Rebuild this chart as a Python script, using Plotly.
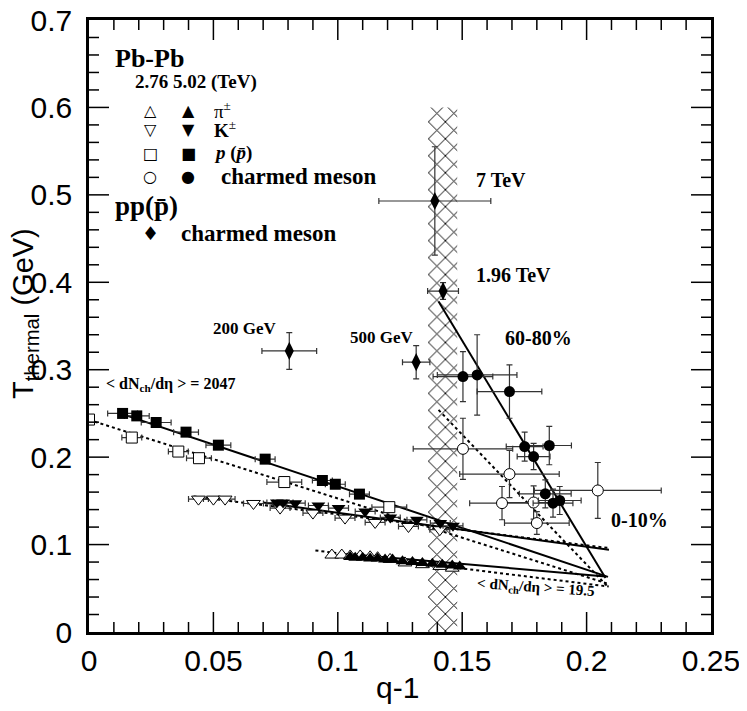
import plotly.graph_objects as go

# ---- data ----
# Pb-Pb pions
pi276_q = [0.0976, 0.1016, 0.105, 0.109, 0.113, 0.116, 0.121, 0.127, 0.134, 0.141, 0.146]
pi276_T = [0.088, 0.088, 0.087, 0.087, 0.086, 0.085, 0.083, 0.079, 0.077, 0.075, 0.073]
pi502_q = [0.105, 0.107, 0.110, 0.113, 0.116, 0.119, 0.122, 0.126, 0.130, 0.134, 0.138, 0.142, 0.146, 0.149]
pi502_T = [0.0857, 0.085, 0.085, 0.084, 0.084, 0.083, 0.083, 0.081, 0.080, 0.079, 0.078, 0.077, 0.076, 0.075]

# Pb-Pb kaons
K276_q = [0.044, 0.050, 0.0547, 0.0661, 0.0768, 0.090, 0.1029, 0.115, 0.1284, 0.141]
K276_T = [0.152, 0.152, 0.152, 0.147, 0.1417, 0.136, 0.1303, 0.1253, 0.1207, 0.117]
K502_q = [0.0755, 0.078, 0.0829, 0.0922, 0.1003, 0.111, 0.1211, 0.1318, 0.1412, 0.1463]
K502_T = [0.148, 0.148, 0.1474, 0.1447, 0.1417, 0.1379, 0.131, 0.1283, 0.1246, 0.1215]
K_qerr = [0.004, 0.004, 0.004, 0.004, 0.004, 0.004, 0.004, 0.004, 0.004, 0.004]

# Pb-Pb protons
p276_q = [0.0, 0.0172, 0.0359, 0.0442, 0.0785, 0.1207]
p276_T = [0.243, 0.2224, 0.2064, 0.1988, 0.1715, 0.1428]
p276_qerr = [0.0, 0.004, 0.004, 0.005, 0.007, 0.007]
p502_q = [0.0135, 0.0192, 0.027, 0.039, 0.052, 0.0708, 0.0938, 0.099, 0.1087]
p502_T = [0.250, 0.2472, 0.2396, 0.2286, 0.2137, 0.1977, 0.1733, 0.169, 0.1577]
p502_qerr = [0.006, 0.005, 0.006, 0.005, 0.005, 0.004, 0.004, 0.004, 0.004]

# Pb-Pb charmed mesons
c502_q = [0.1503, 0.156, 0.169, 0.1751, 0.185, 0.1787, 0.1834, 0.1865, 0.1892]
c502_T = [0.2921, 0.294, 0.275, 0.2121, 0.2133, 0.2007, 0.158, 0.1474, 0.1504]
c502_qerr = [0.012, 0.016, 0.013, 0.0074, 0.0089, 0.0066, 0.0104, 0.008, 0.0086]
c502_Terr = [0.0286, 0.046, 0.0305, 0.0166, 0.022, 0.015, 0.016, 0.016, 0.016]
c276_q = [0.1503, 0.169, 0.166, 0.1787, 0.180, 0.2045]
c276_T = [0.2095, 0.1806, 0.1474, 0.1481, 0.1246, 0.1619]
c276_qerr = [0.02, 0.02, 0.013, 0.012, 0.013, 0.0255]
c276_Terr = [0.035, 0.027, 0.019, 0.019, 0.013, 0.032]

# pp(pbar) charmed mesons
pp_labels = ["200 GeV", "500 GeV", "1.96 TeV", "7 TeV"]
pp_q = [0.0805, 0.1315, 0.1423, 0.139]
pp_T = [0.3215, 0.3086, 0.390, 0.493]
pp_qerr = [0.011, 0.0055, 0.0062, 0.0225]
pp_Terr = [0.021, 0.019, 0.0095, 0.062]

# linear fits (end points)
fit_p502_q, fit_p502_T = [0.0131, 0.2086], [0.2495, 0.063]
fit_p276_q, fit_p276_T = [0.0, 0.2088], [0.2426, 0.055]
fit_K502_q, fit_K502_T = [0.070, 0.209], [0.148, 0.094]
fit_K276_q, fit_K276_T = [0.042, 0.209], [0.155, 0.096]
fit_pi502_q, fit_pi502_T = [0.105, 0.2076], [0.089, 0.0636]
fit_pi276_q, fit_pi276_T = [0.091, 0.2089], [0.0933, 0.052]
fit_c502_q, fit_c502_T = [0.1405, 0.2076], [0.378, 0.0617]
fit_c276_q, fit_c276_T = [0.1405, 0.2088], [0.254, 0.051]

# hatched band
band_q = [0.1364, 0.148]
band_T = [0.0, 0.600]

# axis ranges and tick steps
x_range, x_major_step, x_minor_step = [0, 0.25], 0.05, 0.01
y_range, y_major_step, y_minor_step = [0, 0.7], 0.1, 0.02

# ---- figure ----
# the page body has an 8px margin, so the figure is made 8px smaller and
# the plot area is placed at page pixels x 89..711, y 20..632
OFF = 8
W, H = 747 - OFF, 711 - OFF
PX0, PX1, PY0, PY1 = 89, 711, 20, 632
L, T = PX0 - OFF, PY0 - OFF
R, B = W - (PX1 - OFF), H - (PY1 - OFF)
SERIF = "Liberation Serif"
SANS = "Liberation Sans"
ERR = dict(color="#333333", thickness=1.2, width=3)

fig = go.Figure()

# band
fig.add_trace(go.Scatter(
    x=[band_q[0], band_q[1], band_q[1], band_q[0], band_q[0]],
    y=[band_T[0], band_T[0], band_T[1], band_T[1], band_T[0]],
    mode="lines", fill="toself", line=dict(width=0), fillcolor="white",
    fillpattern=dict(shape="x", size=12, solidity=0.15, fgcolor="black", bgcolor="white",
                     fgopacity=1),
    hoverinfo="skip"))

# fit lines
for q, t, dash in [(fit_p502_q, fit_p502_T, "solid"), (fit_p276_q, fit_p276_T, "dot"),
                   (fit_K502_q, fit_K502_T, "solid"), (fit_K276_q, fit_K276_T, "dot"),
                   (fit_pi502_q, fit_pi502_T, "solid"), (fit_pi276_q, fit_pi276_T, "dot"),
                   (fit_c502_q, fit_c502_T, "solid"), (fit_c276_q, fit_c276_T, "dot")]:
    fig.add_trace(go.Scatter(x=q, y=t, mode="lines",
                             line=dict(color="black", width=2, dash=dash)))


def open_marker(symbol, size=10):
    return dict(symbol=symbol, size=size, color="white", line=dict(color="black", width=1))


def full_marker(symbol, size=10):
    return dict(symbol=symbol, size=size, color="black", line=dict(color="black", width=0))


# pions
fig.add_trace(go.Scatter(x=pi276_q, y=pi276_T, mode="markers", marker=open_marker("triangle-up", 12)))
fig.add_trace(go.Scatter(x=pi502_q, y=pi502_T, mode="markers", marker=full_marker("triangle-up", 12)))

# kaons
fig.add_trace(go.Scatter(x=K276_q, y=K276_T, mode="markers", marker=open_marker("triangle-down", 12),
                         error_x=dict(type="data", array=K_qerr, **ERR)))
fig.add_trace(go.Scatter(x=K502_q, y=K502_T, mode="markers", marker=full_marker("triangle-down", 12),
                         error_x=dict(type="data", array=K_qerr, **ERR)))

# protons
fig.add_trace(go.Scatter(x=p276_q, y=p276_T, mode="markers", marker=open_marker("square", 11),
                         error_x=dict(type="data", array=p276_qerr, **ERR)))
fig.add_trace(go.Scatter(x=p502_q, y=p502_T, mode="markers", marker=full_marker("square", 11),
                         error_x=dict(type="data", array=p502_qerr, **ERR)))

# charmed mesons
fig.add_trace(go.Scatter(x=c276_q, y=c276_T, mode="markers", marker=open_marker("circle", 11),
                         error_x=dict(type="data", array=c276_qerr, **ERR),
                         error_y=dict(type="data", array=c276_Terr, **ERR)))
fig.add_trace(go.Scatter(x=c502_q, y=c502_T, mode="markers", marker=full_marker("circle", 11),
                         error_x=dict(type="data", array=c502_qerr, **ERR),
                         error_y=dict(type="data", array=c502_Terr, **ERR)))

# pp
fig.add_trace(go.Scatter(x=pp_q, y=pp_T, mode="markers", marker=full_marker("diamond-tall", 13),
                         error_x=dict(type="data", array=pp_qerr, **ERR),
                         error_y=dict(type="data", array=pp_Terr, **ERR)))

# inside tick marks on all four sides (ROOT style), lengths given in pixels
kx = (x_range[1] - x_range[0]) / (PX1 - PX0)   # data units per pixel
ky = (y_range[1] - y_range[0]) / (PY1 - PY0)
tick_x, tick_y = [], []
n_x = round((x_range[1] - x_range[0]) / x_minor_step)
n_y = round((y_range[1] - y_range[0]) / y_minor_step)
for i in range(1, n_x):
    v = x_range[0] + i * x_minor_step
    ln = 20 if abs(v / x_major_step - round(v / x_major_step)) < 1e-6 else 10
    tick_x += [v, v, None, v, v, None]
    tick_y += [y_range[0], y_range[0] + ln * ky, None, y_range[1], y_range[1] - ln * ky, None]
for i in range(1, n_y):
    v = y_range[0] + i * y_minor_step
    ln = 20 if abs(v / y_major_step - round(v / y_major_step)) < 1e-6 else 10
    tick_x += [x_range[0], x_range[0] + ln * kx, None, x_range[1], x_range[1] - ln * kx, None]
    tick_y += [v, v, None, v, v, None]
fig.add_trace(go.Scatter(x=tick_x, y=tick_y, mode="lines", connectgaps=False,
                         line=dict(color="black", width=1.5), hoverinfo="skip"))


def paper(px, py):
    # page pixel position -> paper coordinates
    return (px - PX0) / (PX1 - PX0), (PY1 - py) / (PY1 - PY0)


def label(text, px, py, size, family=SERIF, anchor="left", angle=0):
    x, y = paper(px, py)
    fig.add_annotation(x=x, y=y, xref="paper", yref="paper", text=text, showarrow=False,
                       xanchor=anchor, yanchor="middle", textangle=angle,
                       font=dict(family=family, size=size, color="black"))


# legend block
label("<b>Pb-Pb</b>", 113, 58, 26)
label("<b>2.76 5.02 (TeV)</b>", 133, 82, 19)
rows = [(110, "△", "▲", "π<sup>±</sup>", 212, 19),
        (129, "▽", "▼", "<b>K</b><sup>±</sup>", 212, 19),
        (153, "□", "■", "<b><i>p</i> (<i>p̄</i>)</b>", 212, 19),
        (176, "○", "●", "<b>charmed meson</b>", 219, 23)]
for py, g_open, g_full, txt, tx, fs in rows:
    label(g_open, 150, py, 16, family="DejaVu Sans", anchor="center")
    label(g_full, 188, py, 16, family="DejaVu Sans", anchor="center")
    label(txt, tx, py, fs)
label("<b>pp(p̄)</b>", 113, 206, 27)
label("♦", 150, 233, 19, family="DejaVu Sans", anchor="center")
label("<b>charmed meson</b>", 179, 233, 23)

# in-plot labels
label("<b>7 TeV</b>", 474, 180, 20)
label("<b>1.96 TeV</b>", 474, 275, 20)
label("<b>200 GeV</b>", 211, 328, 17)
label("<b>500 GeV</b>", 348, 338, 17)
label("<b>60-80%</b>", 503, 338, 20)
label("<b>0-10%</b>", 609, 520, 20)
label("<b>&lt; dN<sub>ch</sub>/dη &gt; = 2047</b>", 104, 384, 16)
label("<b>&lt; dN<sub>ch</sub>/dη &gt; = 19.5</b>", 474, 588, 15, angle=4)

# axis titles
label("q-1", 397, 688, 30, family=SANS, anchor="center")
label("T<sub>thermal</sub> (GeV)", 25, 314, 29, family=SANS, anchor="center", angle=-90)

axis_common = dict(showline=True, linewidth=2.5, linecolor="black", mirror=True,
                   ticks="", showgrid=False, zeroline=False, automargin=False,
                   ticklabeloverflow="allow",
                   tickfont=dict(family=SANS, size=30, color="black"))

fig.update_xaxes(range=x_range, dtick=x_major_step, tick0=0, **axis_common)
fig.update_yaxes(range=y_range, dtick=y_major_step, tick0=0, ticklabelstandoff=8, **axis_common)

fig.update_layout(template="simple_white",
                  width=W, height=H, margin=dict(l=L, r=R, t=T, b=B),
                  plot_bgcolor="white", paper_bgcolor="white", showlegend=False)

fig.write_html("out.html")
